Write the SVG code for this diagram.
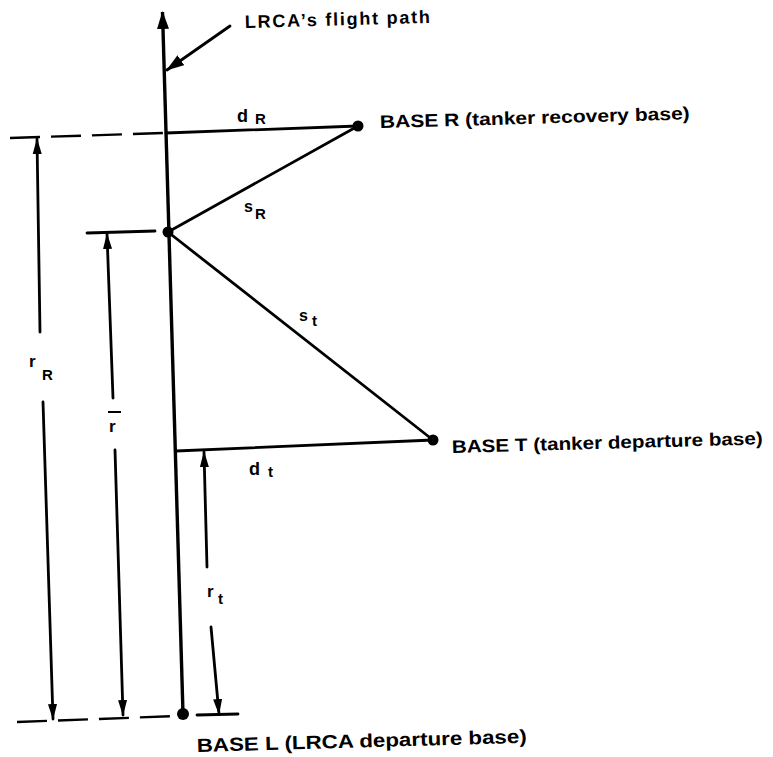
<svg xmlns="http://www.w3.org/2000/svg" width="773" height="757" viewBox="0 0 773 757">
<style>
.ln{stroke:#000;stroke-width:2.8;fill:none;stroke-linecap:round}
.main{stroke:#000;stroke-width:3.4;fill:none}
.dash{stroke:#000;stroke-width:2.4;fill:none;stroke-dasharray:30 11}
.lbl{font-family:"Liberation Sans",Arial,sans-serif;font-weight:bold;font-size:18px;fill:#000}
.math{font-family:"Liberation Sans",Arial,sans-serif;font-weight:bold;font-size:18px;fill:#000}
.sub{font-size:15px}
.dot{fill:#000}
</style>
<defs>
<marker id="arr" markerUnits="userSpaceOnUse" markerWidth="16" markerHeight="10" refX="15" refY="5" orient="auto">
<path d="M0,0.5 L16,5 L0,9.5 z" fill="#000"/>
</marker>
<marker id="arrBig" markerUnits="userSpaceOnUse" markerWidth="18" markerHeight="12" refX="17" refY="6" orient="auto">
<path d="M0,0 L18,6 L0,12 z" fill="#000"/>
</marker>
</defs>

<g id="connectors">
<!-- LRCA flight path -->
<line class="main" x1="183" y1="714" x2="162.5" y2="12" marker-end="url(#arrBig)"/>
<!-- pointer to flight path -->
<line class="ln" x1="230" y1="26" x2="167" y2="70" marker-end="url(#arrBig)"/>
<!-- d_R -->
<line class="ln" x1="166" y1="133" x2="358" y2="126"/>
<!-- s_R -->
<line class="ln" x1="168" y1="232" x2="358" y2="126"/>
<!-- s_t -->
<line class="ln" x1="168" y1="232" x2="433" y2="440"/>
<!-- d_t -->
<line class="ln" x1="176" y1="451" x2="433" y2="440"/>
<!-- extension lines -->
<line class="dash" x1="10" y1="138" x2="164" y2="133"/>
<line class="ln" x1="87" y1="233" x2="155" y2="231"/>
<line class="dash" x1="17" y1="722" x2="178" y2="716"/>
<line class="ln" x1="197" y1="715" x2="238" y2="714"/>
<!-- r_R dimension -->
<line class="ln" x1="40" y1="332" x2="37" y2="139" marker-end="url(#arr)"/>
<line class="ln" x1="43" y1="402" x2="53" y2="719" marker-end="url(#arr)"/>
<!-- r bar dimension -->
<line class="ln" x1="113" y1="398" x2="107" y2="234" marker-end="url(#arr)"/>
<line class="ln" x1="115" y1="450" x2="123" y2="715" marker-end="url(#arr)"/>
<!-- r_t dimension -->
<line class="ln" x1="207" y1="567" x2="204" y2="452" marker-end="url(#arr)"/>
<line class="ln" x1="211" y1="627" x2="219" y2="714" marker-end="url(#arr)"/>
</g>

<g id="flight-path-label">
<text class="lbl" x="245" y="28" transform="rotate(-1.6 245 28)" textLength="185" lengthAdjust="spacing">LRCA’s flight path</text>
</g>

<g id="base-r">
<circle class="dot" cx="358" cy="126" r="5.5"/>
<text class="lbl" x="380" y="128" transform="rotate(-1.6 380 128)" textLength="310" lengthAdjust="spacingAndGlyphs">BASE R (tanker recovery base)</text>
</g>

<g id="refuel-point">
<circle class="dot" cx="168" cy="232" r="5.5"/>
</g>

<g id="base-t">
<circle class="dot" cx="433" cy="440" r="5.5"/>
<text class="lbl" x="452" y="453" transform="rotate(-1.6 452 453)" textLength="311" lengthAdjust="spacingAndGlyphs">BASE T (tanker departure base)</text>
</g>

<g id="base-l">
<circle class="dot" cx="183" cy="714" r="6"/>
<text class="lbl" x="197" y="752" style="font-size:19px" transform="rotate(-1.6 197 752)" textLength="330" lengthAdjust="spacingAndGlyphs">BASE L (LRCA departure base)</text>
</g>

<g id="labels">
<text class="math" x="237" y="122">d<tspan class="sub" x="255" y="124">R</tspan></text>
<text class="math" x="244" y="212" style="font-size:16px">s<tspan class="sub" x="255" y="219">R</tspan></text>
<text class="math" x="299" y="321" style="font-size:16px">s<tspan class="sub" x="312" y="326">t</tspan></text>
<text class="math" x="249" y="475">d<tspan class="sub" x="268" y="477">t</tspan></text>
<text class="math" x="29" y="367" style="font-size:17px">r<tspan class="sub" x="42" y="380">R</tspan></text>
<text class="math" x="109" y="432" style="font-size:17px">r</text>
<line x1="108" y1="412" x2="121" y2="412" stroke="#000" stroke-width="2"/>
<text class="math" x="207" y="597" style="font-size:17px">r<tspan class="sub" x="218" y="604">t</tspan></text>
</g>
</svg>
